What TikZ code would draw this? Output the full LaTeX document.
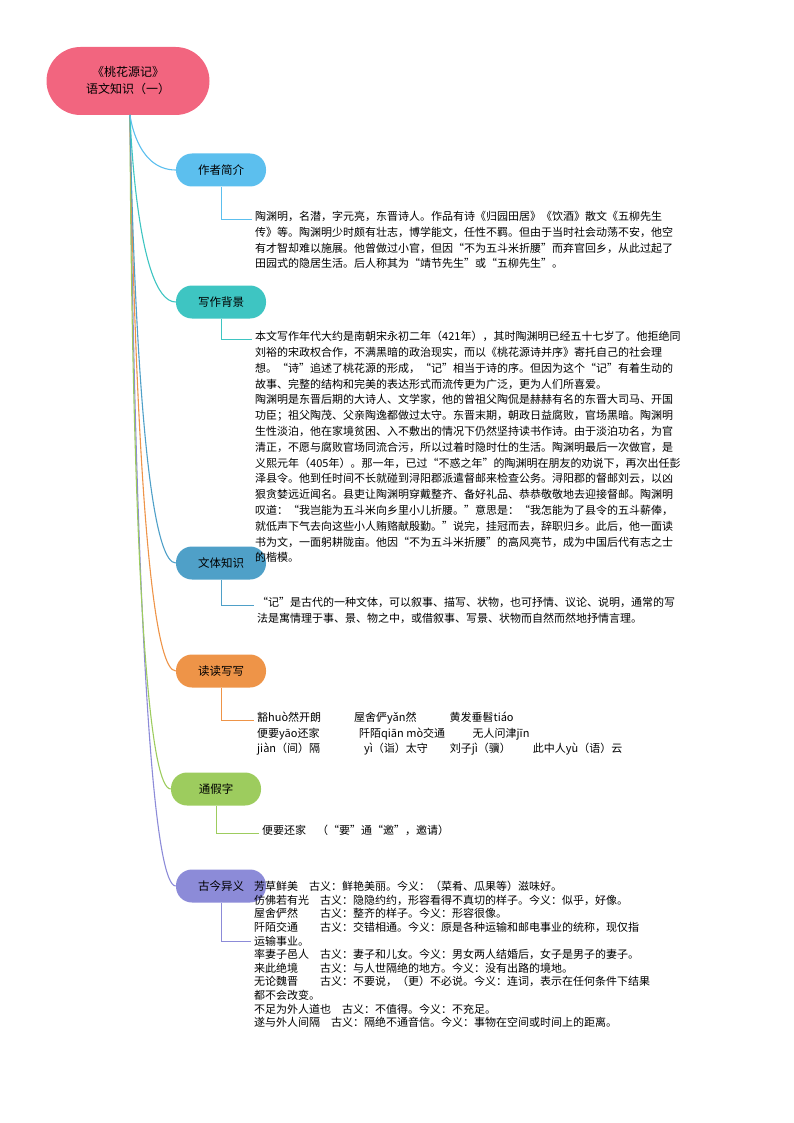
\documentclass[tikz,border=0pt]{standalone}
\usepackage{fontspec}
\setmainfont{Noto Sans CJK SC}
\usetikzlibrary{positioning}
\definecolor{rootpink}{HTML}{F2657F}
\definecolor{cblue}{HTML}{5CBFEE}
\definecolor{cteal}{HTML}{3EC5C2}
\definecolor{csteel}{HTML}{4FA0C8}
\definecolor{corange}{HTML}{EE9448}
\definecolor{cgreen}{HTML}{9DCC5E}
\definecolor{cpurple}{HTML}{8C8BD8}
\tikzset{
  topic/.style={rounded corners=16pt, minimum width=90pt, minimum height=33pt, font=\fontsize{11.5}{14}\selectfont},
  leaf/.style={anchor=north west, align=left, inner sep=0pt, font=\fontsize{11}{15.8}\selectfont},
  stem/.style={line width=1.1pt},
  twig/.style={line width=0.5pt}
}
\begin{document}
\begin{tikzpicture}[x=1pt,y=-1pt]
 \useasboundingbox (0,0) rectangle (794,1123);

    %Root
    \node[fill=rootpink, rounded corners=34pt, minimum width=163pt, minimum height=68pt, align=center, font=\fontsize{12}{17}\selectfont] (root) at (128,81) {《桃花源记》\\语文知识（一）};
    \coordinate (R) at (130,115);

    % Topics
    \node[topic, fill=cblue] (t1) at (221,170) {作者简介};
    \node[topic, fill=cteal] (t2) at (221,302) {写作背景};
    \node[topic, fill=csteel] (t3) at (221,563) {文体知识};
    \node[topic, fill=corange] (t4) at (221,671) {读读写写};
    \node[topic, fill=cgreen] (t5) at (216,789) {通假字};
    \node[topic, fill=cpurple] (t6) at (221,886) {古今异义};

    % Stems
    \foreach \t/\c in {t6/cpurple,t5/cgreen,t4/corange,t3/csteel,t2/cteal,t1/cblue}
      \draw[stem, \c] (R) .. controls ([yshift=-0.8*(0-1)]R) and ([xshift=-40pt]\t.west) .. (\t.west);

    % Leaves
    \node[leaf] (l1) at (255,211) {陶渊明，名潜，字元亮，东晋诗人。作品有诗《归园田居》《饮酒》散文《五柳先生\\传》等。陶渊明少时颇有壮志，博学能文，任性不羁。但由于当时社会动荡不安，他空\\有才智却难以施展。他曾做过小官，但因“不为五斗米折腰”而弃官回乡，从此过起了\\田园式的隐居生活。后人称其为“靖节先生”或“五柳先生”。};
    \node[leaf] (l2) at (255,331) {本文写作年代大约是南朝宋永初二年（421年），其时陶渊明已经五十七岁了。他拒绝同\\刘裕的宋政权合作，不满黑暗的政治现实，而以《桃花源诗并序》寄托自己的社会理\\想。“诗”追述了桃花源的形成，“记”相当于诗的序。但因为这个“记”有着生动的\\故事、完整的结构和完美的表达形式而流传更为广泛，更为人们所喜爱。\\陶渊明是东晋后期的大诗人、文学家，他的曾祖父陶侃是赫赫有名的东晋大司马、开国\\功臣；祖父陶茂、父亲陶逸都做过太守。东晋末期，朝政日益腐败，官场黑暗。陶渊明\\生性淡泊，他在家境贫困、入不敷出的情况下仍然坚持读书作诗。由于淡泊功名，为官\\清正，不愿与腐败官场同流合污，所以过着时隐时仕的生活。陶渊明最后一次做官，是\\义熙元年（405年）。那一年，已过“不惑之年”的陶渊明在朋友的劝说下，再次出任彭\\泽县令。他到任时间不长就碰到浔阳郡派遣督邮来检查公务。浔阳郡的督邮刘云，以凶\\狠贪婪远近闻名。县吏让陶渊明穿戴整齐、备好礼品、恭恭敬敬地去迎接督邮。陶渊明\\叹道：“我岂能为五斗米向乡里小儿折腰。”意思是：“我怎能为了县令的五斗薪俸，\\就低声下气去向这些小人贿赂献殷勤。”说完，挂冠而去，辞职归乡。此后，他一面读\\书为文，一面躬耕陇亩。他因“不为五斗米折腰”的高风亮节，成为中国后代有志之士\\的楷模。};
    \node[leaf] (l3) at (257,597) {“记”是古代的一种文体，可以叙事、描写、状物，也可抒情、议论、说明，通常的写\\法是寓情理于事、景、物之中，或借叙事、写景、状物而自然而然地抒情言理。};
    \node[leaf, font=\fontsize{11}{15.5}\selectfont] (l4) at (257,712) {豁huò然开朗\hspace{3em}屋舍俨yǎn然\hspace{3em}黄发垂髫tiáo\\便要yāo还家\hspace{3.6em}阡陌qiān mò交通\hspace{2.5em}无人问津jīn\\jiàn（间）隔\hspace{4em}yì（诣）太守\hspace{2em}刘子jì（骥）\hspace{2em}此中人yù（语）云};
    \node[leaf] (l5) at (262,825) {便要还家\quad（“要”通“邀”，邀请）};
    \node[leaf, font=\fontsize{11}{13.6}\selectfont] (l6) at (254,881) {芳草鲜美\quad 古义：鲜艳美丽。今义：（菜肴、瓜果等）滋味好。\\仿佛若有光\quad 古义：隐隐约约，形容看得不真切的样子。今义：似乎，好像。\\屋舍俨然\qquad 古义：整齐的样子。今义：形容很像。\\阡陌交通\qquad 古义：交错相通。今义：原是各种运输和邮电事业的统称，现仅指\\运输事业。\\率妻子邑人\quad 古义：妻子和儿女。今义：男女两人结婚后，女子是男子的妻子。\\来此绝境\qquad 古义：与人世隔绝的地方。今义：没有出路的境地。\\无论魏晋\qquad 古义：不要说，（更）不必说。今义：连词，表示在任何条件下结果\\都不会改变。\\不足为外人道也\quad 古义：不值得。今义：不充足。\\遂与外人间隔\quad 古义：隔绝不通音信。今义：事物在空间或时间上的距离。};

    % Twigs
    \foreach \t/\l/\c in {t1/l1/cblue,t2/l2/cteal,t3/l3/csteel,t4/l4/corange,t5/l5/cgreen}
      \draw[twig, \c] (\t.south) |- ([xshift=-3pt,yshift=-8pt]\l.north west);
    \draw[twig, cpurple] (t6.south) |- ([xshift=-3pt,yshift=-60pt]l6.north west);
\end{tikzpicture}
\end{document}
